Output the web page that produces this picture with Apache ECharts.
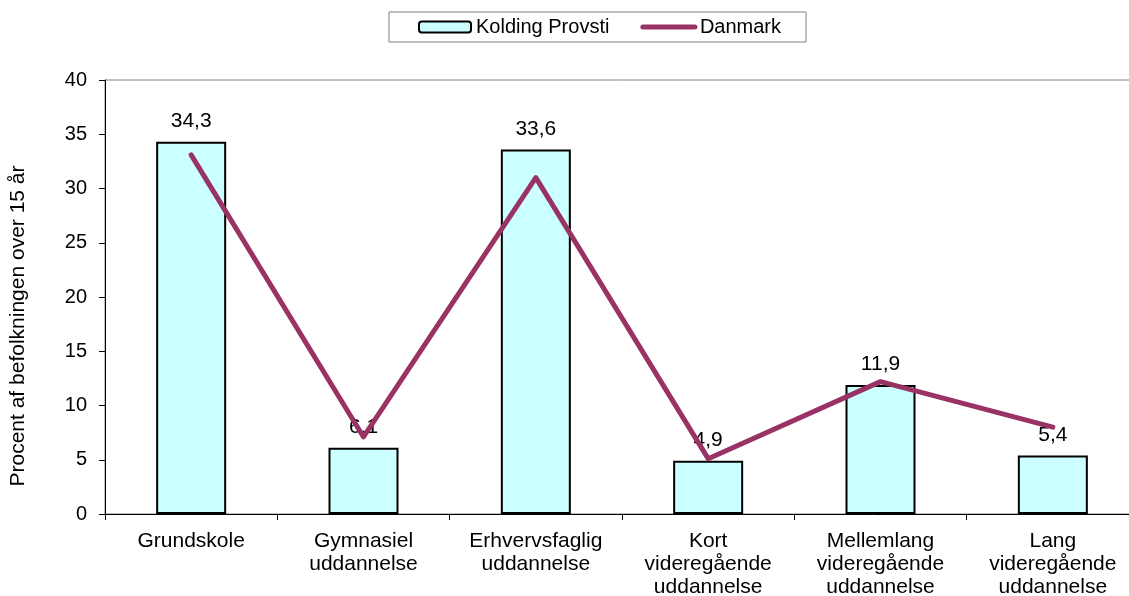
<!DOCTYPE html>
<html>
<head>
<meta charset="utf-8">
<script src="https://cdn.jsdelivr.net/npm/echarts@6/dist/echarts.min.js"></script>
<style>
  html, body { margin: 0; padding: 0; background: #fff; }
  #chart { width: 1129px; height: 596px; }
</style>
</head>
<body>
<div id="chart"></div>
<script>
const categories = [
  "Grundskole",
  "Gymnasiel\nuddannelse",
  "Erhvervsfaglig\nuddannelse",
  "Kort\nvideregående\nuddannelse",
  "Mellemlang\nvideregående\nuddannelse",
  "Lang\nvideregående\nuddannelse",
];
const kolding = [34.3, 6.1, 33.6, 4.9, 11.9, 5.4];
const danmark = [33.1, 7.1, 31.0, 5.1, 12.2, 8.0];

const font = "Liberation Sans, Arial, sans-serif";
const chart = echarts.init(document.getElementById("chart"));

chart.setOption({
  animation: false,
  textStyle: { fontFamily: font },
  legend: {
    top: 12,
    left: 389,
    padding: [5, 25, 5, 29],
    borderColor: "#808080",
    borderWidth: 1,
    itemGap: 31,
    itemWidth: 52,
    itemHeight: 11,
    textStyle: { fontFamily: font, fontSize: 20, color: "#000" },
    data: [
      { name: "Kolding Provsti" },
      {
        name: "Danmark",
        itemStyle: { color: "rgba(0,0,0,0)", borderColor: "rgba(0,0,0,0)", borderWidth: 0 },
        lineStyle: { width: 5, color: "#993366", cap: "round" },
      },
    ],
  },
  grid: {
    left: 105,
    width: 1034,
    top: 80,
    height: 434,
    outerBoundsMode: "none",
    show: true,
    borderColor: "#808080",
    borderWidth: 1,
    containLabel: false,
  },
  xAxis: {
    type: "category",
    data: categories,
    axisLine: { lineStyle: { color: "#000", width: 1 } },
    axisTick: { show: true, length: 6, lineStyle: { color: "#000" } },
    axisLabel: {
      color: "#000",
      fontSize: 21,
      lineHeight: 23,
      margin: 16,
      interval: 0,
    },
  },
  yAxis: {
    type: "value",
    min: 0,
    max: 40,
    interval: 5,
    name: "Procent af befolkningen over 15 år",
    nameLocation: "middle",
    nameGap: 76,
    nameTextStyle: { fontFamily: font, fontSize: 21, color: "#000", padding: [0, 58, 0, 0] },
    axisLine: { show: true, lineStyle: { color: "#000", width: 1 } },
    axisTick: { show: true, length: 6, lineStyle: { color: "#000" } },
    axisLabel: { color: "#000", fontSize: 20, margin: 18 },
    splitLine: { show: false },
  },
  series: [
    {
      name: "Kolding Provsti",
      type: "bar",
      data: kolding,
      barWidth: 70,
      itemStyle: { color: "#CCFFFF", borderColor: "#000", borderWidth: 2 },
      label: {
        show: true,
        position: "top",
        distance: 10,
        color: "#000",
        fontSize: 21,
        fontFamily: font,
        formatter: (p) => String(p.value).replace(".", ","),
      },
    },
    {
      name: "Danmark",
      type: "line",
      data: danmark,
      symbol: "none",
      z: 5,
      lineStyle: { color: "#993366", width: 5, cap: "round", join: "round" },
      itemStyle: { color: "#993366" },
    },
  ],
});
</script>
</body>
</html>
